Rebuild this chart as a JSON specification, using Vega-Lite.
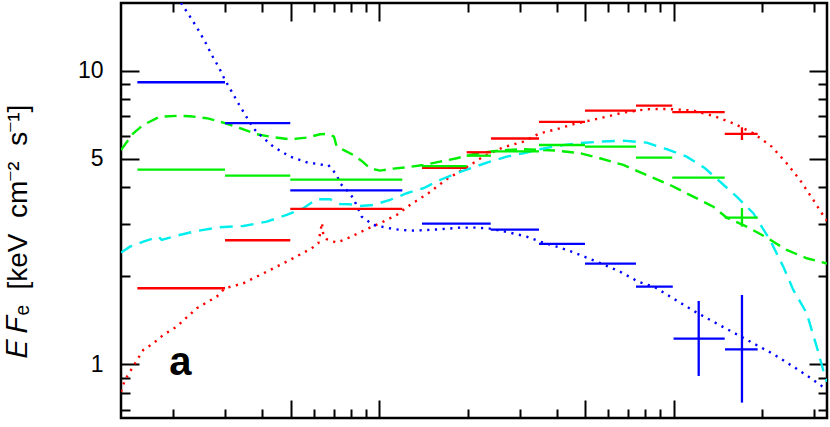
{
  "$schema": "https://vega.github.io/schema/vega-lite/v6.json",
  "width": 706,
  "height": 415,
  "autosize": {"type": "none"},
  "padding": {"left": 121, "top": 3, "right": 3, "bottom": 9},
  "background": "white",
  "config": {
    "view": {"stroke": "black", "strokeWidth": 2.5},
    "axis": {
      "domain": false,
      "grid": false,
      "ticks": true,
      "tickColor": "black",
      "tickWidth": 2,
      "labelFont": "Liberation Sans",
      "labelFontSize": 23,
      "labelColor": "black",
      "labelOverlap": false,
      "labelFlush": false,
      "titleFont": "Liberation Sans",
      "titleColor": "black"
    }
  },
  "datasets": {
    "bins": [
      {"s": "S1", "x1": 0.1508, "x2": 0.2993, "y": 1.813},
      {"s": "S1", "x1": 0.2993, "x2": 0.4985, "y": 2.642},
      {"s": "S1", "x1": 0.4985, "x2": 1.197, "y": 3.378},
      {"s": "S1", "x1": 1.396, "x2": 1.98, "y": 4.66},
      {"s": "S1", "x1": 1.98, "x2": 2.394, "y": 5.27},
      {"s": "S1", "x1": 2.394, "x2": 3.485, "y": 5.87},
      {"s": "S1", "x1": 3.485, "x2": 4.995, "y": 6.69},
      {"s": "S1", "x1": 4.995, "x2": 7.44, "y": 7.31},
      {"s": "S1", "x1": 7.44, "x2": 9.88, "y": 7.6},
      {"s": "S1", "x1": 9.88, "x2": 14.89, "y": 7.22},
      {"s": "S1", "x1": 14.89, "x2": 19.27, "y": 6.085},
      {"s": "S2", "x1": 0.1508, "x2": 0.2993, "y": 4.6},
      {"s": "S2", "x1": 0.2993, "x2": 0.4985, "y": 4.39},
      {"s": "S2", "x1": 0.4985, "x2": 1.197, "y": 4.25},
      {"s": "S2", "x1": 1.396, "x2": 1.98, "y": 4.73},
      {"s": "S2", "x1": 1.98, "x2": 2.394, "y": 5.13},
      {"s": "S2", "x1": 2.394, "x2": 3.485, "y": 5.31},
      {"s": "S2", "x1": 3.485, "x2": 4.995, "y": 5.58},
      {"s": "S2", "x1": 4.995, "x2": 7.44, "y": 5.51},
      {"s": "S2", "x1": 7.44, "x2": 9.88, "y": 5.05},
      {"s": "S2", "x1": 9.88, "x2": 14.89, "y": 4.32},
      {"s": "S2", "x1": 14.89, "x2": 19.27, "y": 3.155},
      {"s": "S3", "x1": 0.1508, "x2": 0.2993, "y": 9.13},
      {"s": "S3", "x1": 0.2993, "x2": 0.4985, "y": 6.62},
      {"s": "S3", "x1": 0.4985, "x2": 1.197, "y": 3.91},
      {"s": "S3", "x1": 1.396, "x2": 2.389, "y": 3.01},
      {"s": "S3", "x1": 2.389, "x2": 3.485, "y": 2.87},
      {"s": "S3", "x1": 3.485, "x2": 4.995, "y": 2.57},
      {"s": "S3", "x1": 4.995, "x2": 7.44, "y": 2.2},
      {"s": "S3", "x1": 7.44, "x2": 9.92, "y": 1.836},
      {"s": "S3", "x1": 9.98, "x2": 14.89, "y": 1.221},
      {"s": "S3", "x1": 14.92, "x2": 19.27, "y": 1.123}
    ],
    "errs": [
      {"s": "S1", "x": 17.04, "ylo": 5.8, "yhi": 6.41},
      {"s": "S2", "x": 17.04, "ylo": 2.94, "yhi": 3.4},
      {"s": "S3", "x": 12.15, "ylo": 0.911, "yhi": 1.641},
      {"s": "S3", "x": 17.04, "ylo": 0.739, "yhi": 1.72}
    ],
    "models": [
      {"m": "M1", "x": 0.1327, "y": 0.805}, {"m": "M1", "x": 0.1369, "y": 0.883}, {"m": "M1", "x": 0.1481, "y": 1.006}, {"m": "M1", "x": 0.158, "y": 1.117}, {"m": "M1", "x": 0.1709, "y": 1.177}, {"m": "M1", "x": 0.1847, "y": 1.257}, {"m": "M1", "x": 0.2051, "y": 1.341}, {"m": "M1", "x": 0.2399, "y": 1.55}, {"m": "M1", "x": 0.2805, "y": 1.697}, {"m": "M1", "x": 0.2992, "y": 1.813}, {"m": "M1", "x": 0.3453, "y": 1.885}, {"m": "M1", "x": 0.4147, "y": 2.065}, {"m": "M1", "x": 0.4975, "y": 2.264}, {"m": "M1", "x": 0.5895, "y": 2.481}, {"m": "M1", "x": 0.6208, "y": 2.581}, {"m": "M1", "x": 0.6324, "y": 2.865}, {"m": "M1", "x": 0.6388, "y": 3.034}, {"m": "M1", "x": 0.6453, "y": 2.754}, {"m": "M1", "x": 0.6629, "y": 2.663}, {"m": "M1", "x": 0.7167, "y": 2.593}, {"m": "M1", "x": 0.7952, "y": 2.705}, {"m": "M1", "x": 0.8381, "y": 2.776}, {"m": "M1", "x": 0.9299, "y": 2.917}, {"m": "M1", "x": 1.0318, "y": 3.058}, {"m": "M1", "x": 1.1456, "y": 3.222}, {"m": "M1", "x": 1.2713, "y": 3.485}, {"m": "M1", "x": 1.4666, "y": 3.821}, {"m": "M1", "x": 1.6937, "y": 4.264}, {"m": "M1", "x": 1.9543, "y": 4.648}, {"m": "M1", "x": 2.2543, "y": 5.092}, {"m": "M1", "x": 2.637, "y": 5.482}, {"m": "M1", "x": 3.0832, "y": 5.728}, {"m": "M1", "x": 3.5129, "y": 6.119}, {"m": "M1", "x": 4.0039, "y": 6.315}, {"m": "M1", "x": 4.5571, "y": 6.567}, {"m": "M1", "x": 5.6157, "y": 6.884}, {"m": "M1", "x": 6.7407, "y": 7.193}, {"m": "M1", "x": 8.091, "y": 7.387}, {"m": "M1", "x": 9.4606, "y": 7.405}, {"m": "M1", "x": 11.647, "y": 7.307}, {"m": "M1", "x": 13.617, "y": 7.009}, {"m": "M1", "x": 15.923, "y": 6.618}, {"m": "M1", "x": 18.621, "y": 6.119}, {"m": "M1", "x": 21.498, "y": 5.508}, {"m": "M1", "x": 24.175, "y": 4.834}, {"m": "M1", "x": 26.823, "y": 4.24}, {"m": "M1", "x": 29.766, "y": 3.625}, {"m": "M1", "x": 32.617, "y": 3.14}, {"m": "M1", "x": 33.13, "y": 3.08},
      {"m": "M2", "x": 0.1327, "y": 5.367}, {"m": "M2", "x": 0.1461, "y": 6.119}, {"m": "M2", "x": 0.158, "y": 6.531}, {"m": "M2", "x": 0.18, "y": 6.97}, {"m": "M2", "x": 0.2051, "y": 7.009}, {"m": "M2", "x": 0.2276, "y": 6.993}, {"m": "M2", "x": 0.2594, "y": 6.884}, {"m": "M2", "x": 0.2953, "y": 6.65}, {"m": "M2", "x": 0.3365, "y": 6.365}, {"m": "M2", "x": 0.3835, "y": 6.07}, {"m": "M2", "x": 0.4366, "y": 5.929}, {"m": "M2", "x": 0.4975, "y": 5.836}, {"m": "M2", "x": 0.5668, "y": 5.91}, {"m": "M2", "x": 0.6289, "y": 6.07}, {"m": "M2", "x": 0.6712, "y": 6.085}, {"m": "M2", "x": 0.7016, "y": 5.957}, {"m": "M2", "x": 0.7167, "y": 5.508}, {"m": "M2", "x": 0.755, "y": 5.367}, {"m": "M2", "x": 0.8161, "y": 5.161}, {"m": "M2", "x": 0.8714, "y": 4.922}, {"m": "M2", "x": 0.9299, "y": 4.648}, {"m": "M2", "x": 1.0055, "y": 4.562}, {"m": "M2", "x": 1.1156, "y": 4.634}, {"m": "M2", "x": 1.2389, "y": 4.685}, {"m": "M2", "x": 1.4105, "y": 4.77}, {"m": "M2", "x": 1.6074, "y": 4.895}, {"m": "M2", "x": 1.8314, "y": 5.028}, {"m": "M2", "x": 2.0855, "y": 5.189}, {"m": "M2", "x": 2.3757, "y": 5.296}, {"m": "M2", "x": 2.7079, "y": 5.367}, {"m": "M2", "x": 3.0832, "y": 5.397}, {"m": "M2", "x": 3.5129, "y": 5.367}, {"m": "M2", "x": 4.0039, "y": 5.338}, {"m": "M2", "x": 4.803, "y": 5.23}, {"m": "M2", "x": 5.6157, "y": 5.028}, {"m": "M2", "x": 6.7407, "y": 4.77}, {"m": "M2", "x": 8.091, "y": 4.41}, {"m": "M2", "x": 9.7075, "y": 4.077}, {"m": "M2", "x": 11.647, "y": 3.72}, {"m": "M2", "x": 13.617, "y": 3.439}, {"m": "M2", "x": 15.122, "y": 3.155}, {"m": "M2", "x": 17.684, "y": 2.94}, {"m": "M2", "x": 20.675, "y": 2.697}, {"m": "M2", "x": 24.175, "y": 2.448}, {"m": "M2", "x": 28.268, "y": 2.294}, {"m": "M2", "x": 33.13, "y": 2.2},
      {"m": "M3", "x": 0.2051, "y": 17.9}, {"m": "M3", "x": 0.2121, "y": 17.01}, {"m": "M3", "x": 0.2276, "y": 15.28}, {"m": "M3", "x": 0.241, "y": 13.95}, {"m": "M3", "x": 0.2559, "y": 12.56}, {"m": "M3", "x": 0.2698, "y": 11.31}, {"m": "M3", "x": 0.2862, "y": 10.19}, {"m": "M3", "x": 0.2992, "y": 9.297}, {"m": "M3", "x": 0.3153, "y": 8.482}, {"m": "M3", "x": 0.3346, "y": 7.641}, {"m": "M3", "x": 0.3562, "y": 6.884}, {"m": "M3", "x": 0.3735, "y": 6.365}, {"m": "M3", "x": 0.3935, "y": 6.037}, {"m": "M3", "x": 0.4366, "y": 5.508}, {"m": "M3", "x": 0.4975, "y": 5.092}, {"m": "M3", "x": 0.5668, "y": 4.872}, {"m": "M3", "x": 0.6453, "y": 4.77}, {"m": "M3", "x": 0.6712, "y": 4.77}, {"m": "M3", "x": 0.7167, "y": 4.41}, {"m": "M3", "x": 0.7358, "y": 4.132}, {"m": "M3", "x": 0.7848, "y": 3.869}, {"m": "M3", "x": 0.8161, "y": 3.674}, {"m": "M3", "x": 0.8714, "y": 3.179}, {"m": "M3", "x": 0.9541, "y": 2.98}, {"m": "M3", "x": 1.0188, "y": 2.94}, {"m": "M3", "x": 1.1304, "y": 2.88}, {"m": "M3", "x": 1.2713, "y": 2.849}, {"m": "M3", "x": 1.4105, "y": 2.858}, {"m": "M3", "x": 1.6074, "y": 2.88}, {"m": "M3", "x": 1.8793, "y": 2.917}, {"m": "M3", "x": 2.1414, "y": 2.917}, {"m": "M3", "x": 2.3757, "y": 2.894}, {"m": "M3", "x": 2.7788, "y": 2.804}, {"m": "M3", "x": 3.1659, "y": 2.718}, {"m": "M3", "x": 3.5129, "y": 2.614}, {"m": "M3", "x": 4.0039, "y": 2.512}, {"m": "M3", "x": 4.5571, "y": 2.405}, {"m": "M3", "x": 5.4727, "y": 2.234}, {"m": "M3", "x": 6.5689, "y": 2.065}, {"m": "M3", "x": 7.5771, "y": 1.909}, {"m": "M3", "x": 8.6358, "y": 1.827}, {"m": "M3", "x": 10.228, "y": 1.645}, {"m": "M3", "x": 11.803, "y": 1.509}, {"m": "M3", "x": 13.617, "y": 1.395}, {"m": "M3", "x": 15.726, "y": 1.29}, {"m": "M3", "x": 18.621, "y": 1.177}, {"m": "M3", "x": 21.771, "y": 1.082}, {"m": "M3", "x": 25.456, "y": 0.98}, {"m": "M3", "x": 29.766, "y": 0.883}, {"m": "M3", "x": 32.617, "y": 0.827}, {"m": "M3", "x": 33.13, "y": 0.818},
      {"m": "M4", "x": 0.1327, "y": 2.398}, {"m": "M4", "x": 0.1423, "y": 2.512}, {"m": "M4", "x": 0.158, "y": 2.614}, {"m": "M4", "x": 0.1777, "y": 2.718}, {"m": "M4", "x": 0.1824, "y": 2.649}, {"m": "M4", "x": 0.2051, "y": 2.739}, {"m": "M4", "x": 0.2399, "y": 2.842}, {"m": "M4", "x": 0.2878, "y": 2.926}, {"m": "M4", "x": 0.3453, "y": 2.956}, {"m": "M4", "x": 0.4147, "y": 3.058}, {"m": "M4", "x": 0.4849, "y": 3.222}, {"m": "M4", "x": 0.5519, "y": 3.396}, {"m": "M4", "x": 0.6131, "y": 3.645}, {"m": "M4", "x": 0.6802, "y": 3.645}, {"m": "M4", "x": 0.7358, "y": 3.513}, {"m": "M4", "x": 0.7952, "y": 3.504}, {"m": "M4", "x": 0.8601, "y": 3.458}, {"m": "M4", "x": 0.9541, "y": 3.485}, {"m": "M4", "x": 1.0872, "y": 3.625}, {"m": "M4", "x": 1.2389, "y": 3.821}, {"m": "M4", "x": 1.4105, "y": 3.973}, {"m": "M4", "x": 1.6074, "y": 4.24}, {"m": "M4", "x": 1.8314, "y": 4.47}, {"m": "M4", "x": 2.0855, "y": 4.685}, {"m": "M4", "x": 2.3757, "y": 4.895}, {"m": "M4", "x": 2.7079, "y": 5.092}, {"m": "M4", "x": 3.0832, "y": 5.23}, {"m": "M4", "x": 3.5129, "y": 5.397}, {"m": "M4", "x": 4.0039, "y": 5.538}, {"m": "M4", "x": 4.7393, "y": 5.656}, {"m": "M4", "x": 5.6157, "y": 5.728}, {"m": "M4", "x": 6.7407, "y": 5.772}, {"m": "M4", "x": 8.091, "y": 5.683}, {"m": "M4", "x": 9.4606, "y": 5.397}, {"m": "M4", "x": 11.06, "y": 5.092}, {"m": "M4", "x": 12.764, "y": 4.648}, {"m": "M4", "x": 14.352, "y": 4.184}, {"m": "M4", "x": 16.353, "y": 3.72}, {"m": "M4", "x": 18.621, "y": 3.266}, {"m": "M4", "x": 21.214, "y": 2.649}, {"m": "M4", "x": 23.538, "y": 2.148}, {"m": "M4", "x": 25.456, "y": 1.789}, {"m": "M4", "x": 28.268, "y": 1.49}, {"m": "M4", "x": 30.565, "y": 1.146}, {"m": "M4", "x": 32.617, "y": 0.906}, {"m": "M4", "x": 33.13, "y": 0.87}
    ],
    "annot": [{"t": "a", "x": 0.211, "y": 0.915}]
  },
  "layer": [
    {
      "data": {"name": "models"},
      "mark": {"type": "line", "clip": true, "strokeWidth": 2.4, "strokeCap": "butt"},
      "encoding": {
        "x": {"field": "x", "type": "quantitative", "scale": {"type": "log", "domain": [0.1327, 33.13], "nice": false}, "axis": null},
        "y": {"field": "y", "type": "quantitative", "scale": {"type": "log", "domain": [0.655, 17.0], "nice": false}, "axis": null},
        "color": {"field": "m", "type": "nominal", "legend": null, "scale": {"domain": ["S1", "S2", "S3", "M1", "M2", "M3", "M4"], "range": ["#ff0000", "#00ee00", "#0000ff", "#ff0000", "#00ee00", "#0000ff", "#00eeee"]}},
        "strokeDash": {"field": "m", "type": "nominal", "legend": null, "scale": {"domain": ["M1", "M2", "M3", "M4"], "range": [[2.2, 5.5], [12, 7], [2.2, 5.5], [13, 8]]}}
      }
    },
    {
      "data": {"name": "bins"},
      "mark": {"type": "rule", "strokeWidth": 2.3},
      "encoding": {
        "x": {"field": "x1", "type": "quantitative", "scale": {"type": "log", "domain": [0.1327, 33.13], "nice": false},
          "axis": {"orient": "bottom", "title": null, "labels": false,
            "values": [0.2, 0.3, 0.4, 0.5, 0.6, 0.7, 0.8, 0.9, 1, 2, 3, 4, 5, 6, 7, 8, 9, 10, 20, 30],
            "tickSize": {"condition": {"test": "datum.value == 0.5 || datum.value == 1 || datum.value == 5 || datum.value == 10", "value": -18}, "value": -9}}},
        "x2": {"field": "x2"},
        "y": {"field": "y", "type": "quantitative", "scale": {"type": "log", "domain": [0.655, 17.0], "nice": false},
          "axis": {"orient": "left",
            "values": [0.7, 0.8, 0.9, 1, 2, 3, 4, 5, 6, 7, 8, 9, 10],
            "labelExpr": "(datum.value == 1 || datum.value == 5 || datum.value == 10) ? format(datum.value, 'd') : ''",
            "labelPadding": 36,
            "tickSize": {"condition": {"test": "datum.value == 1 || datum.value == 5 || datum.value == 10", "value": -18}, "value": -9},
            "title": "𝐸 𝐹ₑ\u00a0 [keV\u00a0 cm⁻²\u00a0 s⁻¹]",
            "titleFontSize": 28,
            "titleFontWeight": "normal",
            "titleAngle": -90,
            "titleAlign": "center",
            "titleBaseline": "middle",
            "titleX": -103,
            "titleY": 228}},
        "color": {"field": "s", "type": "nominal", "legend": null, "scale": {"domain": ["S1", "S2", "S3", "M1", "M2", "M3", "M4"], "range": ["#ff0000", "#00ee00", "#0000ff", "#ff0000", "#00ee00", "#0000ff", "#00eeee"]}}
      }
    },
    {
      "data": {"name": "errs"},
      "mark": {"type": "rule", "strokeWidth": 2.3},
      "encoding": {
        "x": {"field": "x", "type": "quantitative", "scale": {"type": "log", "domain": [0.1327, 33.13], "nice": false},
          "axis": {"orient": "top", "title": null, "labels": false,
            "values": [0.2, 0.3, 0.4, 0.5, 0.6, 0.7, 0.8, 0.9, 1, 2, 3, 4, 5, 6, 7, 8, 9, 10, 20, 30],
            "tickSize": {"condition": {"test": "datum.value == 0.5 || datum.value == 1 || datum.value == 5 || datum.value == 10", "value": -18}, "value": -9}}},
        "y": {"field": "ylo", "type": "quantitative", "scale": {"type": "log", "domain": [0.655, 17.0], "nice": false},
          "axis": {"orient": "right", "title": null, "labels": false,
            "values": [0.7, 0.8, 0.9, 1, 2, 3, 4, 5, 6, 7, 8, 9, 10],
            "tickSize": {"condition": {"test": "datum.value == 1 || datum.value == 5 || datum.value == 10", "value": -18}, "value": -9}}},
        "y2": {"field": "yhi"},
        "color": {"field": "s", "type": "nominal", "legend": null, "scale": {"domain": ["S1", "S2", "S3", "M1", "M2", "M3", "M4"], "range": ["#ff0000", "#00ee00", "#0000ff", "#ff0000", "#00ee00", "#0000ff", "#00eeee"]}}
      }
    },
    {
      "data": {"name": "annot"},
      "mark": {"type": "text", "font": "Liberation Sans", "fontSize": 40, "fontWeight": "bold", "align": "center", "baseline": "alphabetic", "color": "black"},
      "encoding": {
        "x": {"field": "x", "type": "quantitative", "scale": {"type": "log", "domain": [0.1327, 33.13], "nice": false}, "axis": null},
        "y": {"field": "y", "type": "quantitative", "scale": {"type": "log", "domain": [0.655, 17.0], "nice": false}, "axis": null},
        "text": {"field": "t"}
      }
    }
  ],
  "resolve": {"axis": {"x": "independent", "y": "independent"}}
}
